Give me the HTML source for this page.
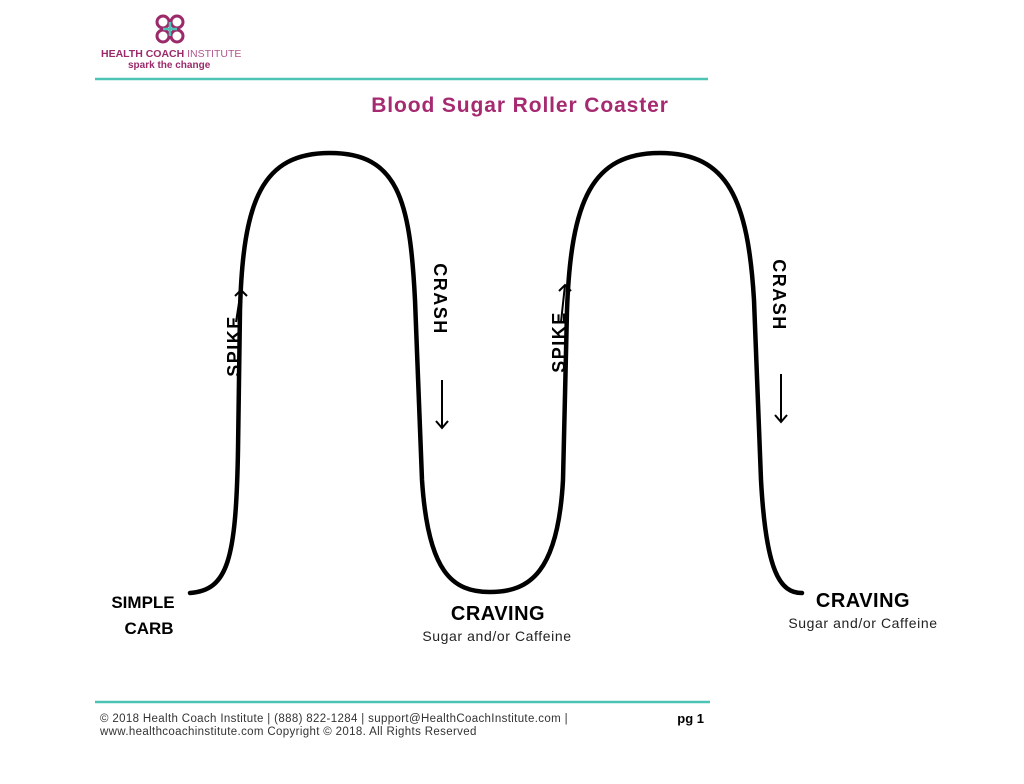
<!DOCTYPE html>
<html><head><meta charset="utf-8"><style>
html,body{margin:0;padding:0;background:#fff;}
body{width:1024px;height:784px;overflow:hidden;position:relative;font-family:"Liberation Sans",sans-serif;}
</style></head><body>
<svg width="1024" height="784" viewBox="0 0 1024 784" xmlns="http://www.w3.org/2000/svg" style="position:absolute;left:0;top:0">
<!-- logo -->
<g fill="none" stroke="#9b2a6b" stroke-width="3">
<circle cx="163" cy="22" r="6"/><circle cx="177" cy="22" r="6"/>
<circle cx="163" cy="36" r="6"/><circle cx="177" cy="36" r="6"/>
</g>
<g stroke="#4cc3b5" stroke-width="2.5"><line x1="163" y1="29" x2="177" y2="29"/><line x1="170" y1="22" x2="170" y2="36"/></g>
<text x="101" y="57" font-size="10.5" font-weight="bold" fill="#9b2a6b">HEALTH COACH <tspan font-weight="normal" fill="#b0578c">INSTITUTE</tspan></text>
<text x="128" y="68" font-size="10" font-weight="bold" fill="#9b2a6b">spark the change</text>
<line x1="95" y1="79" x2="708" y2="79" stroke="#4cc3b5" stroke-width="2.5"/>
<text x="520" y="112" font-size="21" font-weight="bold" fill="#a52a70" text-anchor="middle" letter-spacing="0.9">Blood Sugar Roller Coaster</text>
<!-- curve -->
<path d="M190,593 C228,590 236,560 238,450 L240,310 C243,200 262,153 330,153 C398,153 410,200 415,300 L422,480 C428,572 452,592 490,592 C530,592 558,572 563,480 L567,310 C571,200 592,153 660,153 C728,153 748,200 754,300 L761,480 C766,572 780,593 802,593" fill="none" stroke="#000" stroke-width="4.5" stroke-linecap="round"/>
<!-- labels -->
<g font-size="18" font-weight="bold" fill="#000" letter-spacing="1.5">
<text transform="translate(240,346) rotate(-90)" text-anchor="middle">SPIKE</text>
<text transform="translate(565,342) rotate(-90)" text-anchor="middle">SPIKE</text>
<text transform="translate(434,299) rotate(90)" text-anchor="middle">CRASH</text>
<text transform="translate(773,295) rotate(90)" text-anchor="middle">CRASH</text>
</g>
<g stroke="#000" stroke-width="2" fill="none">
<line x1="236" y1="322" x2="241" y2="290"/><polyline points="235,296 241,290 247,296"/>
<line x1="561" y1="322" x2="565" y2="285"/><polyline points="559,291 565,285 571,291"/>
<line x1="442" y1="380" x2="442" y2="428"/><polyline points="436,421 442,428 448,421"/>
<line x1="781" y1="374" x2="781" y2="422"/><polyline points="775,415 781,422 787,415"/>
</g>
<g font-size="17" font-weight="bold" fill="#000">
<text x="143" y="608" text-anchor="middle">SIMPLE</text>
<text x="149" y="634" text-anchor="middle">CARB</text>
<text x="498" y="620" text-anchor="middle" font-size="20" letter-spacing="0.5">CRAVING</text>
<text x="863" y="607" text-anchor="middle" font-size="20" letter-spacing="0.5">CRAVING</text>
</g>
<text x="497" y="641" text-anchor="middle" font-size="14" fill="#222" letter-spacing="0.6">Sugar and/or Caffeine</text>
<text x="863" y="628" text-anchor="middle" font-size="14" fill="#222" letter-spacing="0.6">Sugar and/or Caffeine</text>
<!-- footer -->
<line x1="95" y1="702" x2="710" y2="702" stroke="#4cc3b5" stroke-width="2.5"/>
<text x="100" y="722" font-size="11.5" fill="#333" letter-spacing="0.35">© 2018 Health Coach Institute | (888) 822-1284 | support@HealthCoachInstitute.com |</text>
<text x="100" y="735" font-size="11.5" fill="#333" letter-spacing="0.35">www.healthcoachinstitute.com Copyright © 2018. All Rights Reserved</text>
<text x="704" y="723" font-size="13" font-weight="bold" fill="#000" text-anchor="end">pg 1</text>
</svg>
</body></html>
